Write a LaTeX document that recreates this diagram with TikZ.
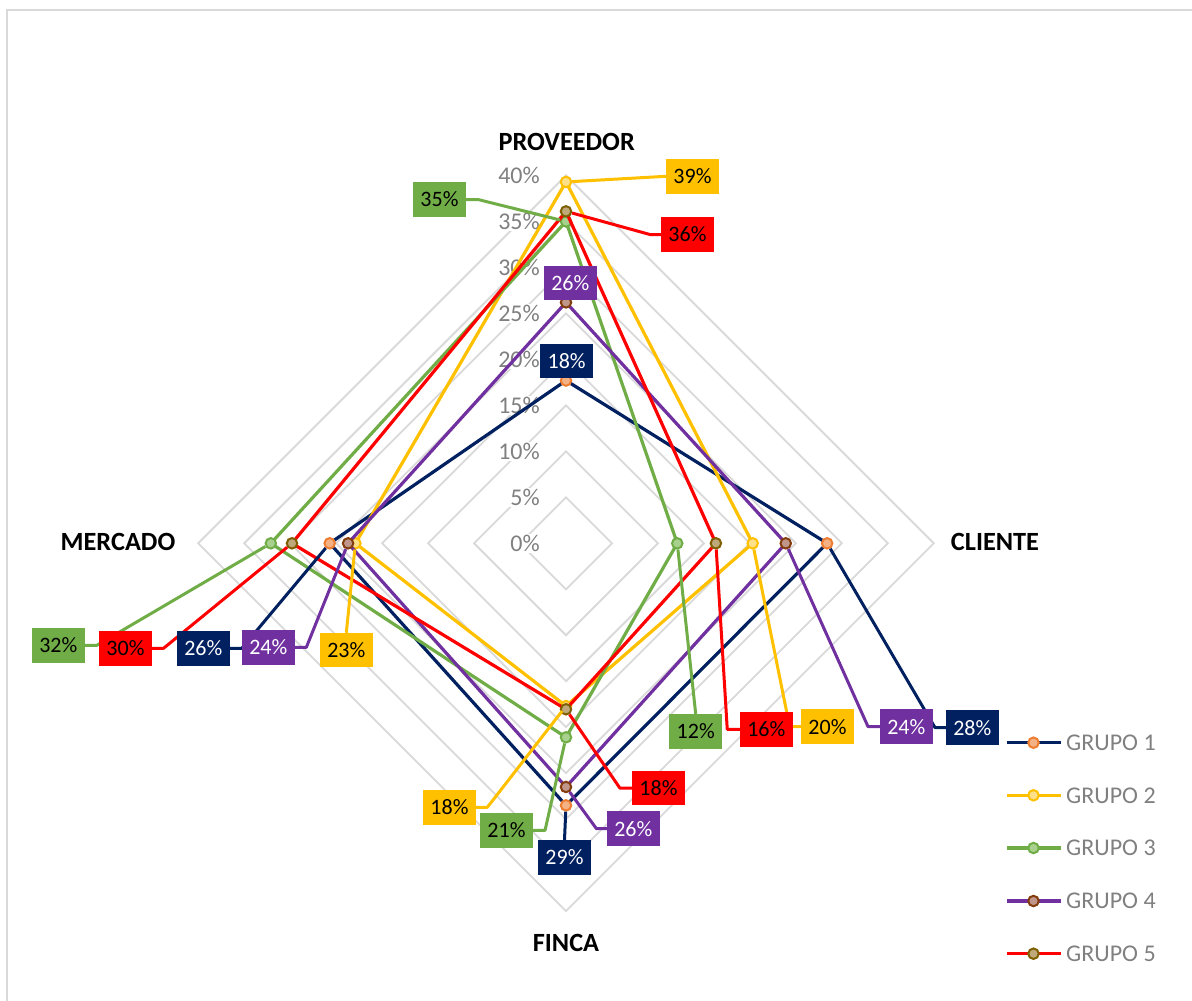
\documentclass[tikz,border=0pt]{standalone}
\usepackage{fontspec}
\setmainfont{Carlito}
\usetikzlibrary{calc}
% series colours
\definecolor{sNavy}{HTML}{002060}
\definecolor{sYellow}{HTML}{FFC000}
\definecolor{sGreen}{HTML}{70AD47}
\definecolor{sPurple}{HTML}{7030A0}
\definecolor{sRed}{HTML}{FF0000}
% marker colours
\definecolor{k1b}{HTML}{ED7D31}\definecolor{k1f}{HTML}{F4B183}
\definecolor{k2b}{HTML}{FFC000}\definecolor{k2f}{HTML}{FFE08A}
\definecolor{k3b}{HTML}{70AD47}\definecolor{k3f}{HTML}{A9D18E}
\definecolor{k4b}{HTML}{843C0C}\definecolor{k4f}{HTML}{C0968A}
\definecolor{k5b}{HTML}{7F6000}\definecolor{k5f}{HTML}{BFA97A}
\definecolor{gridgray}{HTML}{D9D9D9}
\definecolor{txtgray}{HTML}{808080}
\pgfdeclarelayer{gridlayer}
\pgfdeclarelayer{serieslayer}
\pgfdeclarelayer{leaderlayer}
\pgfsetlayers{gridlayer,serieslayer,leaderlayer,main}
\begin{document}
\begin{tikzpicture}[x=1pt,y=-1pt,
  grid/.style={draw=gridgray,line width=1.8pt,line join=miter},
  series/.style={line width=3.2pt,line join=round},
  leader/.style={line width=3pt,line join=round},
  mk/.style={circle,inner sep=0pt,minimum size=10.5pt,line width=2pt},
  lbl/.style={inner sep=0pt,minimum width=52.7pt,minimum height=34.5pt,
              font=\fontsize{22}{22}\selectfont},
  tick/.style={anchor=east,fill=white,inner sep=1pt,text=txtgray,
               font=\fontsize{24}{24}\selectfont},
  cat/.style={font=\bfseries\fontsize{26.3}{27}\selectfont},
  legtxt/.style={anchor=west,inner sep=0pt,text=txtgray,
                 font=\fontsize{24}{24}\selectfont}
]
\def\k{9.195}
\path[use as bounding box] (0,0) rectangle (1192,1001);

\begin{pgfonlayer}{gridlayer}
% chart frame
\draw[gridgray,line width=2pt] (6.5,1001) -- (6.5,9.5) -- (1192,9.5);
% radial grid: one diamond every 5%
\coordinate (O) at (566,543.3);
\foreach \i in {1,...,8}{
  \pgfmathsetmacro{\r}{5*\i*\k}
  \draw[grid] ($(O)+(0,-\r)$) -- ($(O)+(\r,0)$) -- ($(O)+(0,\r)$) -- ($(O)+(-\r,0)$) -- cycle;
}
% value axis labels
\foreach \i in {0,...,8}{
  \pgfmathtruncatemacro{\v}{5*\i}
  \node[tick] (t\v) at (541,{543.3-5*\i*\k}) {\v\%};
}
\end{pgfonlayer}

% category labels
\node[cat] (catP) at (566.7,141.7) {PROVEEDOR};
\node[cat] (catC) at (995,542.3) {CLIENTE};
\node[cat] (catF) at (566,943.3) {FINCA};
\node[cat] (catM) at (118,542.3) {MERCADO};

% series: values for PROVEEDOR, CLIENTE, FINCA, MERCADO
\begin{pgfonlayer}{serieslayer}
\foreach \g/\vp/\vc/\vf/\vm/\col in {
  1/17.7/28.4/28.5/25.7/sNavy,
  2/39.3/20.3/17.7/22.9/sYellow,
  3/35.0/12.1/21.1/32.1/sGreen,
  4/26.2/23.9/26.5/23.7/sPurple,
  5/36.1/16.3/18.05/29.8/sRed}{
  \coordinate (p\g) at (566,{543.3-\vp*\k});
  \coordinate (c\g) at ({566+\vc*\k},543.3);
  \coordinate (f\g) at (566,{543.3+\vf*\k});
  \coordinate (q\g) at ({566-\vm*\k},543.3);
  \draw[series,\col] (p\g) -- (c\g) -- (f\g) -- (q\g) -- cycle;
  \foreach \a in {p,c,f,q}{
    \node[mk,draw=k\g b,fill=k\g f] (m\g\a) at (\a\g) {};
  }
}
\end{pgfonlayer}

% data labels
\node[lbl,fill=sYellow] (L2P) at (692.5,176.3) {39\%};
\node[lbl,fill=sGreen]  (L3P) at (439.5,199.5) {35\%};
\node[lbl,fill=sRed]    (L5P) at (687.5,234.5) {36\%};
\node[lbl,fill=sPurple,text=white] (L4P) at (570.3,282.8) {26\%};
\node[lbl,fill=sNavy,text=white]   (L1P) at (566.7,361.2) {18\%};

\node[lbl,fill=sGreen]  (L3M) at (58.3,645.3) {32\%};
\node[lbl,fill=sRed]    (L5M) at (125.5,648.3) {30\%};
\node[lbl,fill=sNavy,text=white]   (L1M) at (203.3,648.3) {26\%};
\node[lbl,fill=sPurple,text=white] (L4M) at (268.3,647.3) {24\%};
\node[lbl,fill=sYellow] (L2M) at (346.3,650.2) {23\%};

\node[lbl,fill=sGreen]  (L3C) at (695.7,731.3) {12\%};
\node[lbl,fill=sRed]    (L5C) at (766.3,729.3) {16\%};
\node[lbl,fill=sYellow] (L2C) at (827.5,726.7) {20\%};
\node[lbl,fill=sPurple,text=white] (L4C) at (906.3,726.7) {24\%};
\node[lbl,fill=sNavy,text=white]   (L1C) at (972.3,727.7) {28\%};

\node[lbl,fill=sYellow] (L2F) at (449.5,807.3) {18\%};
\node[lbl,fill=sGreen]  (L3F) at (506.5,830.3) {21\%};
\node[lbl,fill=sNavy,text=white]   (L1F) at (564.5,857.3) {29\%};
\node[lbl,fill=sPurple,text=white] (L4F) at (633.3,828.7) {26\%};
\node[lbl,fill=sRed]    (L5F) at (658.5,788.2) {18\%};

% leader lines from markers to their labels
\begin{pgfonlayer}{leaderlayer}
\draw[leader,sYellow] (m2p) -- (L2P.west);
\draw[leader,sGreen]  (m3p) -- ([xshift=12pt]L3P.east) -- (L3P.east);
\draw[leader,sRed]    (m5p) -- ([xshift=-11pt]L5P.west) -- (L5P.west);

\draw[leader,sGreen]  (m3q) -- ([xshift=12pt]L3M.east) -- (L3M.east);
\draw[leader,sRed]    (m5q) -- ([xshift=11.5pt]L5M.east) -- (L5M.east);
\draw[leader,sNavy]   (m1q) -- ([xshift=12pt]L1M.east) -- (L1M.east);
\draw[leader,sPurple] (m4q) -- ([xshift=11.5pt]L4M.east) -- (L4M.east);
\draw[leader,sYellow] (m2q) -- (L2M.north);

\draw[leader,sGreen]  (m3c) -- (L3C.north);
\draw[leader,sRed]    (m5c) -- ([xshift=-12.5pt]L5C.west) -- (L5C.west);
\draw[leader,sYellow] (m2c) -- ([xshift=-11.3pt]L2C.west) -- (L2C.west);
\draw[leader,sPurple] (m4c) -- ([xshift=-11.7pt]L4C.west) -- (L4C.west);
\draw[leader,sNavy]   (m1c) -- ([xshift=-10.7pt]L1C.west) -- (L1C.west);

\draw[leader,sYellow] (m2f) -- ([xshift=11.3pt]L2F.east) -- (L2F.east);
\draw[leader,sGreen]  (m3f) -- ([xshift=12pt]L3F.east) -- (L3F.east);
\draw[leader,sNavy]   (m1f) -- (L1F.north);
\draw[leader,sPurple] (m4f) -- ([xshift=-10.3pt]L4F.west) -- (L4F.west);
\draw[leader,sRed]    (m5f) -- ([xshift=-12pt]L5F.west) -- (L5F.west);
\end{pgfonlayer}

% legend
\foreach \g/\y/\col in {1/742.7/sNavy,2/795.3/sYellow,3/848/sGreen,4/901/sPurple,5/953.7/sRed}{
  \coordinate (lga\g) at (1007,\y);
  \coordinate (lgb\g) at (1061,\y);
  \draw[series,\col] (lga\g) -- (lgb\g);
  \node[mk,draw=k\g b,fill=k\g f] (lgm\g) at (1033.5,\y) {};
  \node[legtxt] (lgt\g) at (1066,\y) {GRUPO \g};
}
\end{tikzpicture}
\end{document}
